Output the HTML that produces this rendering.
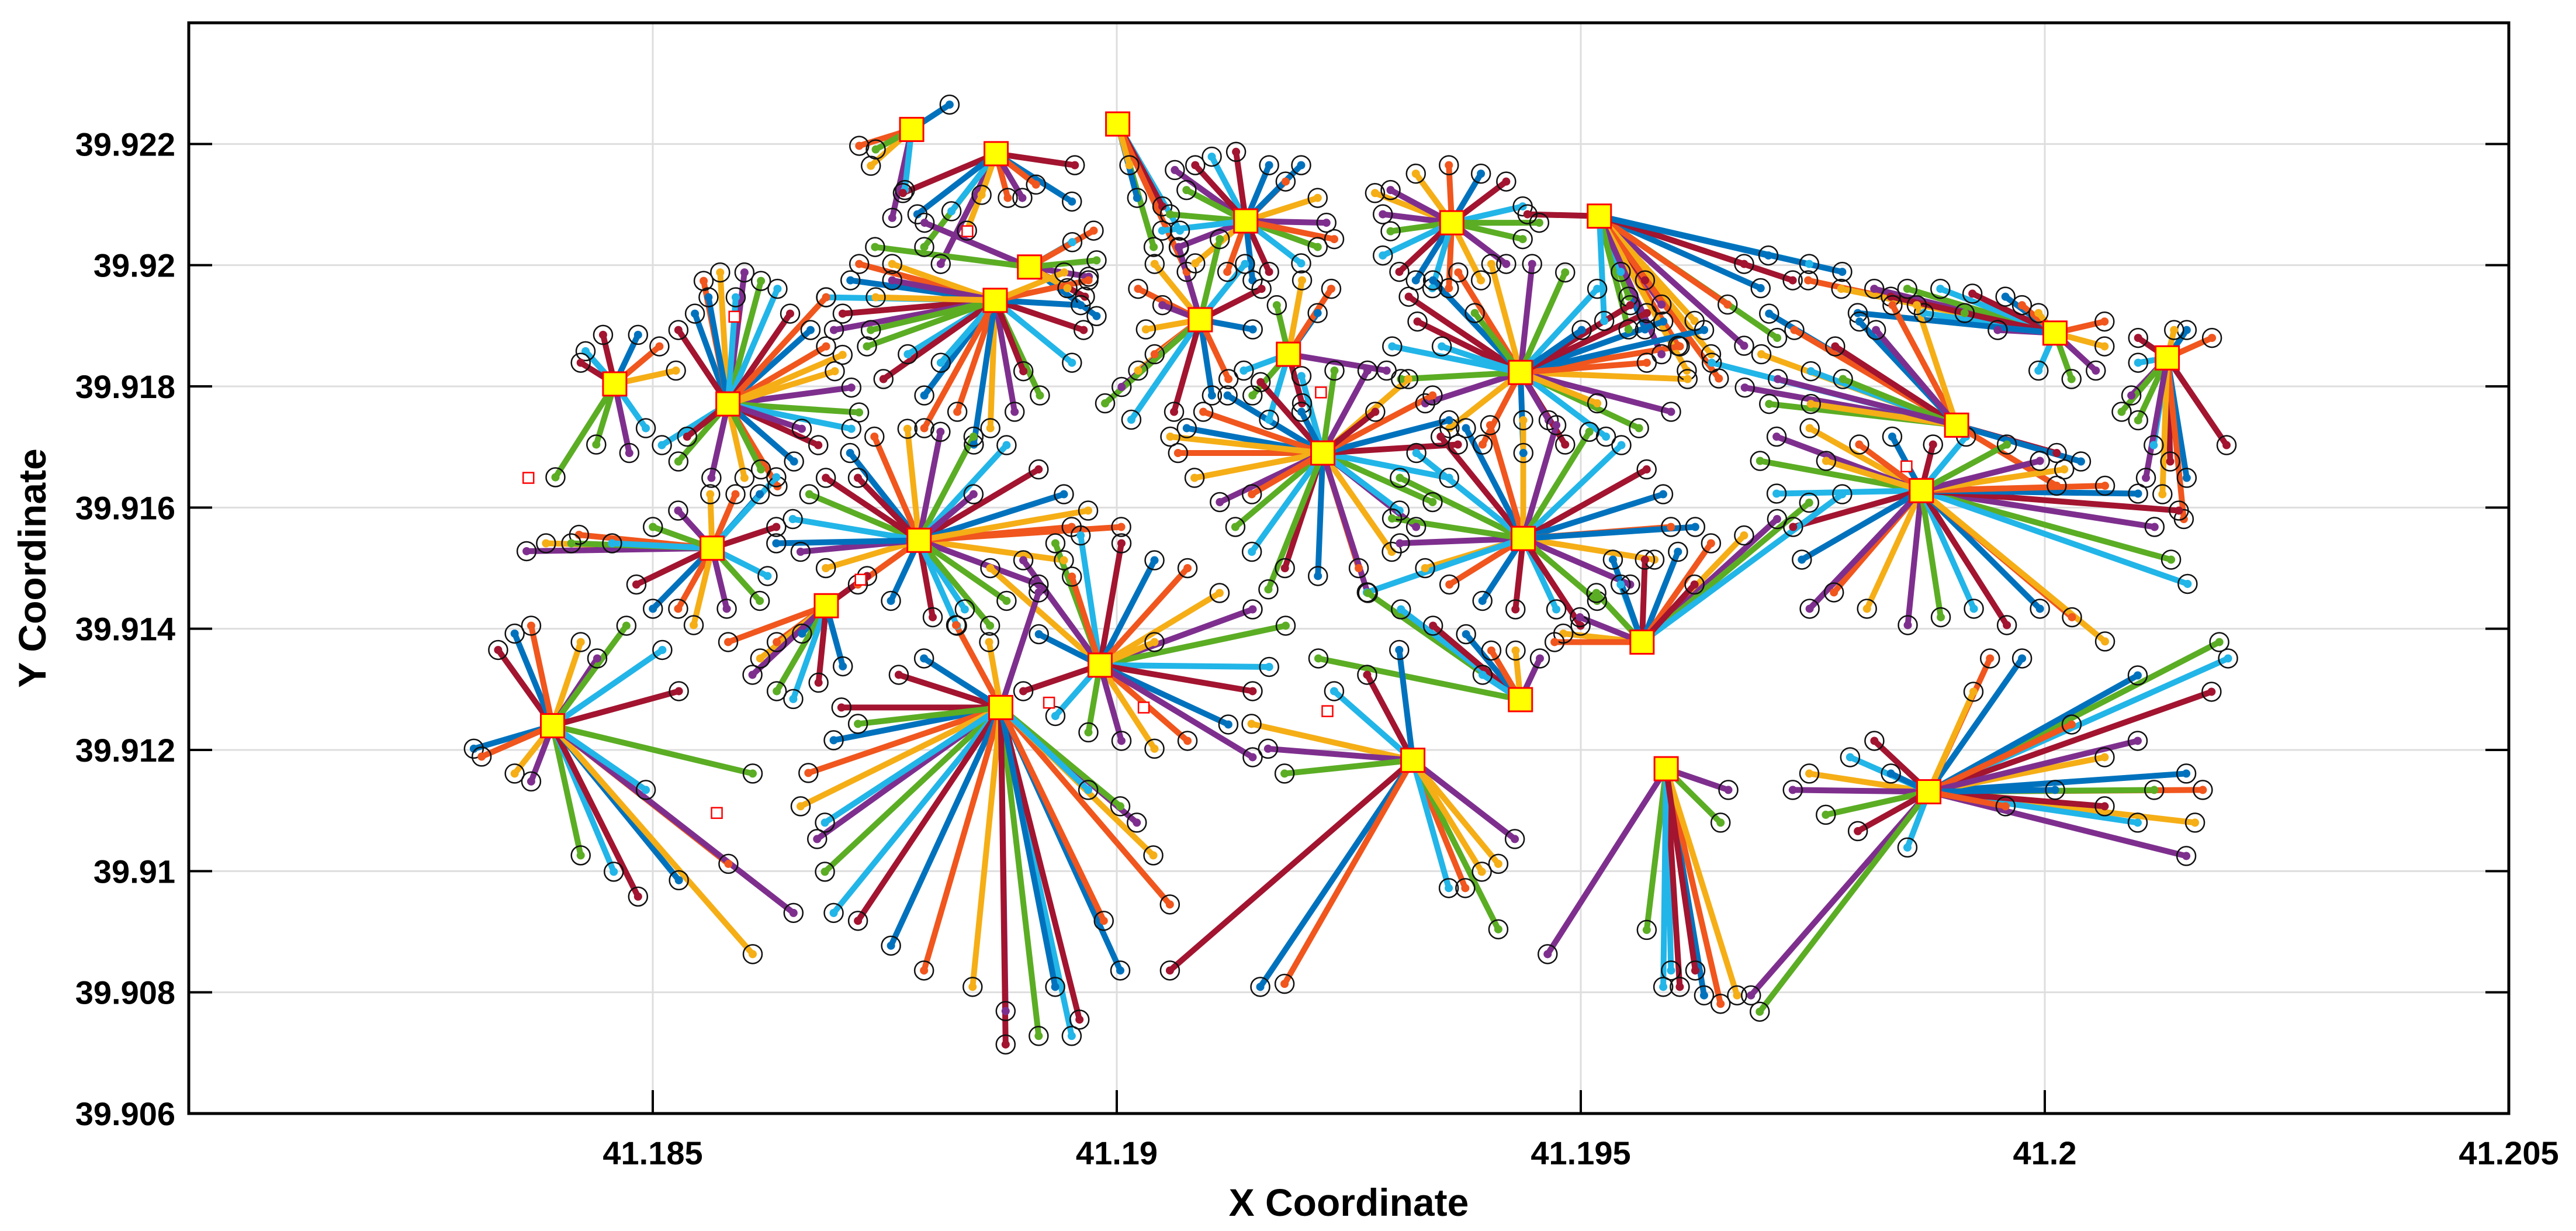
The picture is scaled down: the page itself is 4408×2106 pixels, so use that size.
<!DOCTYPE html>
<html><head><meta charset="utf-8"><style>
html,body{margin:0;padding:0;background:#fff;}
svg{display:block;font-family:"Liberation Sans",Arial,sans-serif;}
</style></head><body>
<svg id="chart" width="4408" height="2106" viewBox="0 0 4408 2106" xmlns="http://www.w3.org/2000/svg">
<rect x="0" y="0" width="4408" height="2106" fill="#fff"/>
<g id="grid"></g><g id="spokes"></g><g id="ends"></g><g id="hubs"></g><g id="axes"></g>
</svg>
<script>
const xTicks=[41.185,41.19,41.195,41.2,41.205];
const xTickLabels=["41.185","41.19","41.195","41.2","41.205"];
const yTicks=[39.906,39.908,39.91,39.912,39.914,39.916,39.918,39.92,39.922];
const yTickLabels=["39.906","39.908","39.91","39.912","39.914","39.916","39.918","39.92","39.922"];
const hubLon=[41.18779,41.1887,41.19001,41.18906,41.18869,41.19139,41.19361,41.1952,41.1909,41.19185,41.19435,41.20011,41.20132,41.19905,41.18459,41.18581,41.19222,41.19867,41.18787,41.19438,41.18564,41.18687,41.19566,41.18982,41.19435,41.18392,41.18875,41.19319,41.19592,41.19875];
const hubLat=[39.92224,39.92184,39.92233,39.91997,39.91942,39.92073,39.9207,39.92081,39.9191,39.91853,39.91823,39.91888,39.91847,39.91736,39.91804,39.91771,39.9169,39.91628,39.91546,39.91549,39.91533,39.91438,39.91378,39.9134,39.91283,39.9124,39.9127,39.91183,39.91169,39.91131];
const unusedLon=[41.18366,41.18588,41.18724,41.18839,41.1922,41.19851,41.18927,41.19029,41.19227,41.18569];
const unusedLat=[39.91649,39.91915,39.91481,39.92056,39.9179,39.91668,39.91278,39.9127,39.91264,39.91096];
// endpoint offsets from hub [dLon,dLat]; dLon in units of 1.047e-5 deg, dLat in 1e-5 deg
const ends=[
[[39,41],[-54,-27],[-42,-60],[-20,-146],[-37,-33],[-7,-100]],
[[81,-19],[78,-79],[41,-51],[-30,-127],[-57,-182],[-74,-154],[-46,-95],[-96,-65],[-81,-100],[12,-73],[-15,-68],[27,-73]],
[[37,-203],[64,-176],[46,-136],[20,-122],[71,-244],[12,-68]],
[[61,-16],[69,11],[44,41],[57,-49],[69,-81],[66,60],[39,-35],[-108,73],[-159,33]],
[[-174,5],[-157,-22],[-149,33],[-140,60],[-106,60],[-166,-49],[-128,-49],[-90,-89],[-115,-130],[-73,-157],[-39,-184],[-5,-211],[20,-184],[46,-157],[79,-103],[91,-49],[88,-8],[96,33],[71,46],[-106,33],[-132,-76],[-56,-103],[29,-117],[-22,-238],[-73,-211],[-123,5]],
[[-73,84],[-61,51],[-35,106],[-10,114],[24,92],[41,65],[74,38],[83,-3],[74,-43],[57,-70],[24,-84],[7,-98],[-19,-84],[-52,-70],[-69,-43],[-78,11],[-86,-16],[-52,92],[57,92],[91,-30]],
[[-79,49],[-71,14],[-63,-14],[-71,-54],[-54,-81],[-37,-95],[-3,-108],[30,-95],[56,-68],[73,-27],[73,27],[56,68],[30,81],[-3,95],[-37,81],[-63,54],[90,0],[-20,-108]],
[[-74,3],[47,-187],[81,-214],[115,-228],[149,-214],[183,-201],[216,-79],[199,-106],[166,-119],[132,-146],[98,-173],[64,-146],[30,-133],[22,-92],[47,-106],[250,-92],[123,-268],[90,-255],[64,-228],[30,-187],[5,-173],[149,-79],[174,-65]],
[[-64,51],[-47,92],[-22,119],[20,133],[46,92],[63,51],[54,-16],[-47,-57],[-64,-84],[-81,-111],[-98,-138],[-71,-165],[-27,-152],[12,-125],[29,-98],[-56,-16],[-39,24]],
[[-37,-68],[-20,-108],[14,-81],[30,68],[44,108],[14,122],[101,-27],[-12,81],[-46,-27]],
[[-115,125],[-90,152],[-64,165],[-30,179],[12,179],[46,165],[79,138],[113,111],[147,84],[164,43],[172,-11],[155,-65],[122,-92],[88,-106],[46,-119],[3,-133],[-39,-119],[-73,-92],[-98,-51],[-123,-11],[-132,43],[-106,84],[189,70],[130,16],[79,-51],[29,-79],[-47,98],[-81,43],[130,98],[63,70]],
[[-254,87],[-220,73],[-186,73],[-152,73],[-118,73],[-85,65],[-51,60],[-34,46],[-17,33],[-59,5],[-93,33],[-135,33],[-169,60],[-203,33],[51,19],[51,-22],[42,-62],[17,-76],[-17,-62]],
[[-30,33],[20,46],[46,33],[7,46],[-37,-62],[-30,-103],[-14,-144],[3,-171],[20,-198],[17,-266],[-5,-225],[-22,-198],[-47,-89],[-30,-8],[61,-144]],
[[-193,184],[-167,157],[-201,117],[-218,62],[-193,35],[-150,89],[-125,130],[-100,171],[-66,198],[-41,198],[-83,157],[-117,76],[-252,103],[103,-46],[128,-60],[103,-100],[-150,35],[-184,76]],
[[-61,-154],[-30,54],[-12,81],[24,81],[46,62],[63,22],[15,-114],[-19,-100],[32,-73],[-35,35]],
[[-34,149],[-25,203],[-8,217],[17,217],[34,203],[51,190],[64,149],[85,122],[101,95],[118,81],[127,27],[135,-14],[127,-41],[93,-68],[68,-95],[51,-136],[17,-122],[-17,-122],[-51,-95],[-68,-68],[-51,122],[-20,176],[101,176],[110,54],[76,-41],[34,-108],[8,176],[-42,-54]],
[[-140,41],[-149,0],[-132,-41],[-106,-81],[-90,-122],[-73,-163],[-39,-190],[-5,-203],[37,-190],[71,-163],[96,-122],[113,-81],[130,-41],[139,14],[130,54],[113,95],[88,122],[46,136],[12,136],[-22,127],[-64,117],[-98,95],[-123,68],[-157,27],[46,-230],[-56,-225],[79,-95],[54,68],[-22,68],[-73,-68]],
[[-115,103],[-149,89],[-166,49],[-149,-5],[-132,-60],[-123,-114],[-90,-168],[-56,-195],[-14,-222],[20,-209],[54,-195],[88,-222],[122,-195],[155,-209],[189,-249],[240,-60],[257,-114],[274,-154],[265,-33],[223,-5],[189,8],[147,35],[122,49],[88,76],[46,89],[12,76],[-30,89],[-64,76],[-98,49],[-115,-195]],
[[-113,76],[-130,35],[-96,103],[-71,144],[-46,171],[-12,184],[22,179],[56,171],[90,157],[123,117],[149,76],[157,22],[149,-33],[123,-73],[90,-100],[47,-114],[14,-127],[-29,-100],[-63,-73],[-96,-46],[-122,-19],[73,-141],[39,-141],[-63,103],[-147,-5],[208,22],[174,49],[56,76]],
[[-127,100],[-110,141],[-85,168],[-59,182],[-34,187],[0,195],[34,187],[68,176],[101,154],[127,114],[144,73],[152,19],[135,-35],[110,-76],[76,-103],[34,-117],[-8,-117],[-42,-103],[-76,-76],[-101,-49],[-127,-8],[-135,33],[-161,-89],[59,-144],[177,19]],
[[-137,22],[-171,8],[-191,-5],[-145,8],[-103,8],[-78,-60],[-61,-100],[-35,-100],[-19,-127],[15,-100],[49,-87],[57,-46],[66,35],[49,89],[24,89],[-2,89],[-35,62],[-61,35],[66,117]],
[[42,49],[-25,-46],[-51,-60],[-68,-87],[-76,-114],[-51,-141],[-34,-154],[-8,-127],[17,-100],[-101,-60]],
[[-81,14],[-64,41],[-47,81],[-22,95],[3,136],[37,149],[71,163],[105,176],[139,203],[172,230],[206,244],[54,95],[-30,136],[-90,0]],
[[-113,160],[-79,173],[-46,201],[-20,214],[22,201],[56,173],[90,160],[123,119],[157,92],[191,65],[174,-3],[157,-43],[132,-98],[90,-125],[56,-138],[22,-125],[-12,-111],[-46,-84],[-79,-43],[-63,51],[-29,146],[56,38],[157,-152]],
[[-157,176],[-123,149],[-90,122],[-56,108],[-30,81],[-5,81],[20,68],[-208,68],[-39,41]],
[[-56,125],[-39,152],[-22,165],[29,138],[46,111],[76,165],[113,125],[130,57],[-81,-38],[-73,-51],[-39,-79],[-22,-92],[29,-214],[63,-241],[88,-282],[130,-255],[181,-228],[206,-377],[248,-309],[206,-79],[96,-106]],
[[-164,0],[-172,-54],[-198,-108],[-206,-163],[-189,-217],[-181,-271],[-172,-339],[-147,-352],[-113,-393],[-79,-434],[-29,-461],[5,-501],[39,-542],[73,-542],[81,-515],[123,-434],[174,-325],[157,-244],[140,-190],[123,-163],[90,-136],[-105,54],[-79,81],[-46,136],[-12,108],[39,190],[-147,-27],[-181,-190],[5,-556],[56,-461],[106,-352]],
[[-166,60],[-149,19],[-132,-22],[-81,114],[-47,141],[-14,182],[54,-211],[88,-171],[105,-130],[88,-279],[37,-211],[-250,-347],[-157,-374],[-132,-369],[71,-184]],
[[-122,-306],[-20,-266],[5,-333],[14,-360],[39,-374],[56,-388],[73,-374],[64,-35],[56,-89],[-3,-360],[30,-333]],
[[265,30],[282,3],[274,-51],[265,-106],[299,247],[308,220],[291,165],[215,192],[147,111],[181,57],[215,84],[232,3],[215,-51],[181,-24],[130,3],[79,-24],[-123,30],[-140,3],[-106,-38],[-81,57],[-56,84],[96,220],[63,220],[46,165],[-183,-336],[-174,-363],[-22,-92],[-73,-65],[-39,30]]
];
const lonUnit=1.047e-5, latUnit=1e-5;
const colors=["#0072BD","#F0561D","#F5AE16","#7E2F8E","#5BAD24","#22B5E8","#A2142F"];
const L=323,R=4293,T=39,B=1905,X0=41.18,X1=41.205,Y0=39.906,Y1=39.924;
const sx=v=>L+(v-X0)/(X1-X0)*(R-L);
const sy=v=>B-(v-Y0)/(Y1-Y0)*(B-T);
const NS="http://www.w3.org/2000/svg";
function mk(tag,parent,attrs){const e=document.createElementNS(NS,tag);for(const k in attrs)e.setAttribute(k,attrs[k]);parent.appendChild(e);return e;}
const gGrid=document.getElementById('grid'),gSp=document.getElementById('spokes'),gEnd=document.getElementById('ends'),gHub=document.getElementById('hubs'),gAx=document.getElementById('axes');
xTicks.forEach((t,i)=>{const x=sx(t);
 const g=mk('line',gGrid,{x1:x,y1:T,x2:x,y2:B,stroke:'#dedede','stroke-width':3});
 
 
 const tk=mk('line',gAx,{x1:x,y1:B,x2:x,y2:B-40,stroke:'#000','stroke-width':4});
 
 
 const tx=mk('text',gAx,{x:x,y:1992,'text-anchor':'middle','font-size':56,'font-weight':'bold',fill:'#000'});
 tx.textContent=xTickLabels[i];
 
 
});
yTicks.forEach((t,i)=>{const y=sy(t);
 const g=mk('line',gGrid,{x1:L,y1:y,x2:R,y2:y,stroke:'#dedede','stroke-width':3});
 
 
 const tk=mk('line',gAx,{x1:L,y1:y,x2:L+40,y2:y,stroke:'#000','stroke-width':4});
 
 
 const tk2=mk('line',gAx,{x1:R,y1:y,x2:R-40,y2:y,stroke:'#000','stroke-width':4});
 
 
 const tx=mk('text',gAx,{x:300,y:y+20,'text-anchor':'end','font-size':56,'font-weight':'bold',fill:'#000'});
 tx.textContent=yTickLabels[i];
 
 
});
let ci=0;
hubLon.forEach((lon,h)=>{const hx=sx(lon),hy=sy(hubLat[h]);
 ends[h].forEach(p=>{const ex=sx(lon+p[0]*lonUnit),ey=sy(hubLat[h]+p[1]*latUnit);const c=colors[ci%7];ci++;
  const ln=mk('line',gSp,{x1:hx,y1:hy,x2:ex,y2:ey,stroke:c,'stroke-width':10});
  
  
  const dot=mk('circle',gEnd,{cx:ex,cy:ey,r:7,fill:c});
  
  
  const cr=mk('circle',gEnd,{cx:ex,cy:ey,r:16,fill:'none',stroke:'#111','stroke-width':2.5});
  
  
 });
});
unusedLon.forEach((lon,i)=>{
 const r=mk('rect',gHub,{x:sx(lon)-9,y:sy(unusedLat[i])-9,width:18,height:18,fill:'#fff',stroke:'#f00','stroke-width':2.5});
 
 
});
hubLon.forEach((lon,h)=>{
 const r=mk('rect',gHub,{x:sx(lon)-20,y:sy(hubLat[h])-20,width:40,height:40,fill:'#ffff00',stroke:'#f00','stroke-width':3});
 
 
});
const box=mk('rect',gAx,{x:L,y:T,width:R-L,height:B-T,fill:'none',stroke:'#000','stroke-width':5});


const xl=mk('text',gAx,{x:(L+R)/2,y:2080,'text-anchor':'middle','font-size':66,'font-weight':'bold',fill:'#000'});
xl.textContent='X Coordinate';


const yl=mk('text',gAx,{x:0,y:0,'text-anchor':'middle','font-size':66,'font-weight':'bold',fill:'#000',transform:'translate(78,'+((T+B)/2)+') rotate(-90)'});
yl.textContent='Y Coordinate';


</script>
</body></html>
